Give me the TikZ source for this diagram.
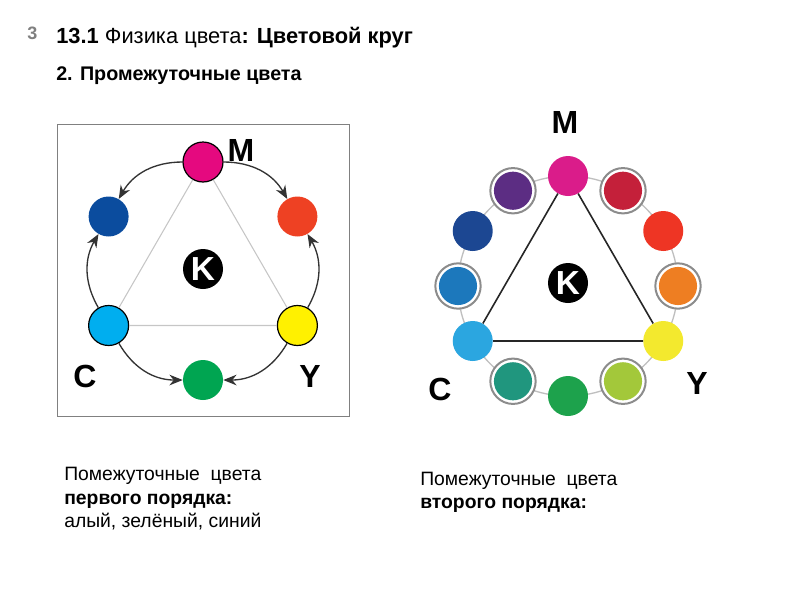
\documentclass[tikz,border=0pt]{standalone}
\usepackage{fontspec}
\setmainfont{Liberation Sans}
\usetikzlibrary{positioning,arrows.meta}
\definecolor{lmag}{HTML}{E5097F}
\definecolor{lblue}{HTML}{0B4C9E}
\definecolor{lred}{HTML}{EE4123}
\definecolor{lcyan}{HTML}{00AEEF}
\definecolor{lyel}{HTML}{FFF100}
\definecolor{lgreen}{HTML}{00A551}
\definecolor{rmag}{HTML}{DA1C8A}
\definecolor{rcrim}{HTML}{C4203A}
\definecolor{rred}{HTML}{EE3524}
\definecolor{rorange}{HTML}{EE7E22}
\definecolor{ryel}{HTML}{F3E92E}
\definecolor{rlime}{HTML}{A3C83A}
\definecolor{rgreen}{HTML}{1DA24C}
\definecolor{rteal}{HTML}{20967E}
\definecolor{rcyan}{HTML}{2BA6E0}
\definecolor{rblue}{HTML}{1C78BC}
\definecolor{rnavy}{HTML}{1C4792}
\definecolor{rviolet}{HTML}{5C2D83}
\tikzset{
dot/.style={circle,inner sep=0pt,minimum size=30pt,fill=#1},
prim/.style={dot=#1,draw=black,line width=0.9pt},
ringdot/.style={circle,inner sep=0pt,minimum size=34pt,draw=gray!90,line width=1.5pt,fill=white,
  path picture={\fill[#1] (path picture bounding box.center) circle (14.3pt);}},
knode/.style={circle,fill=black,inner sep=0pt,minimum size=30pt,text=white,
  font=\bfseries\fontsize{25}{25}\selectfont},
lbl/.style={inner sep=0pt,font=\bfseries\fontsize{24}{24}\selectfont},
arc/.style={draw=black!80,line width=1pt,-{Stealth[length=10pt,width=8pt]}},
txt/.style={anchor=base west,inner sep=0pt,font=\fontsize{14.5}{17}\selectfont},
}
\begin{document}
\begin{tikzpicture}[x=0.75pt,y=0.75pt]
\useasboundingbox (0,0) rectangle (800,-600);
% header
\node[txt,text=gray,font=\bfseries\fontsize{13.5}{14}\selectfont] (pg) at (27,-39) {3};
\node[txt,font=\fontsize{16.4}{17}\selectfont] (title) at (56,-43)
  {\textbf{13.1} Физика цвета\textbf{: Цветовой круг}};
\node[txt,font=\bfseries\fontsize{14.8}{15}\selectfont] (sub) at (56,-80)
  {2. Промежуточные цвета};

% first order wheel
\draw[draw=gray,line width=0.75pt] (57,-124) rectangle (349,-416);
\begin{scope}[shift={(203,-271)}]
  \node[prim=lmag] (lM) at (90:109) {};
  \node[dot=lblue] (lB) at (150:109) {};
  \node[prim=lcyan] (lC) at (210:109) {};
  \node[dot=lgreen] (lG) at (270:109) {};
  \node[prim=lyel] (lY) at (330:109) {};
  \node[dot=lred] (lR) at (30:109) {};
  \node[knode] (lK) at (0,2) {K};
\end{scope}
\draw[gray!45,line width=0.8pt] (lM) -- (lC) -- (lY) -- (lM);
\draw[arc] (lM) to[bend right=30] (lB);
\draw[arc] (lM) to[bend left=30] (lR);
\draw[arc] (lC) to[bend left=30] (lB);
\draw[arc] (lC) to[bend right=30] (lG);
\draw[arc] (lY) to[bend left=30] (lG);
\draw[arc] (lY) to[bend right=30] (lR);
\node[lbl] (lMl) at (241,-150) {M};
\node[lbl] (lCl) at (85,-376) {C};
\node[lbl] (lYl) at (310,-376) {Y};

% second order wheel
\begin{scope}[shift={(568,-286)}]
  \draw[gray!50,line width=1pt] (0,0) circle (110);
  \foreach \a/\c/\n in {90/rmag/rM,30/rred/rR,-30/ryel/rY,-90/rgreen/rG,
                        210/rcyan/rC,150/rnavy/rB}
    \node[dot=\c] (\n) at (\a:110) {};
  \foreach \a/\c/\n in {60/rcrim/rMR,0/rorange/rRY,-60/rlime/rYG,
                        -120/rteal/rGC,180/rblue/rCB,120/rviolet/rBM}
    \node[ringdot=\c] (\n) at (\a:110) {};
  \node[knode] (rK) at (0,3) {K};
\end{scope}
\draw[black!85,line width=1.2pt] (rM) -- (rC) -- (rY) -- (rM);
\node[lbl] (rMl) at (565,-122) {M};
\node[lbl] (rCl) at (440,-389) {C};
\node[lbl] (rYl) at (697,-383) {Y};

% captions
\node[txt] (c1a) at (64,-480) {Помежуточные\ \ цвета};
\node[txt,font=\bfseries\fontsize{14.5}{17}\selectfont] (c1b) at (64,-504) {первого порядка:};
\node[txt] (c1c) at (64,-527) {алый,\ зелёный,\ синий};
\node[txt] (c2a) at (420,-485) {Помежуточные\ \ цвета};
\node[txt,font=\bfseries\fontsize{14.5}{17}\selectfont] (c2b) at (420,-508) {второго порядка:};
\end{tikzpicture}
\end{document}
